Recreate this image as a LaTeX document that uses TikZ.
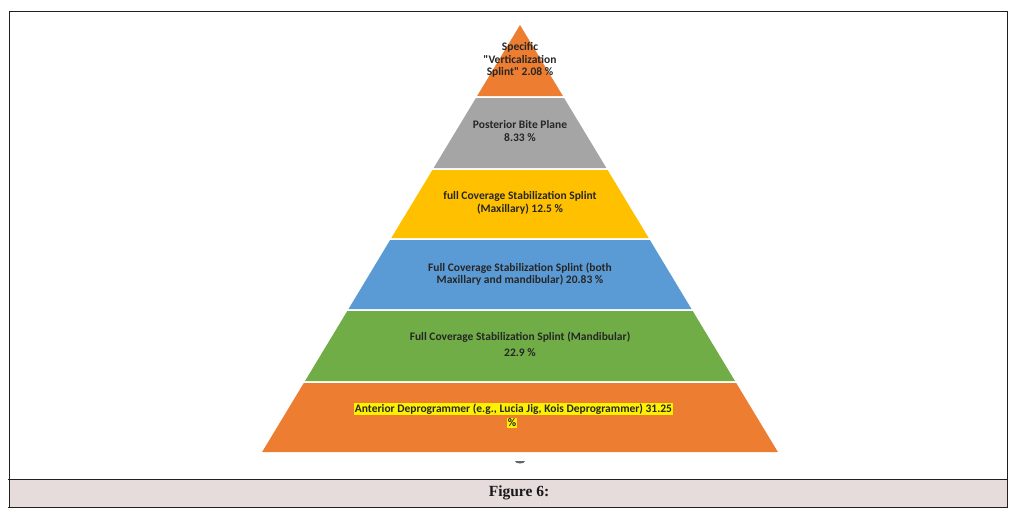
\documentclass[tikz,border=0pt]{standalone}
\usepackage{fontspec}
\setmainfont{Liberation Serif}
\newfontfamily\carl{Carlito}
\definecolor{orng}{HTML}{ED7D31}
\definecolor{gry}{HTML}{A5A5A5}
\definecolor{yel}{HTML}{FFC000}
\definecolor{blu}{HTML}{5B9BD5}
\definecolor{grn}{HTML}{70AD47}
\definecolor{band}{HTML}{E7DCDC}
\definecolor{frame}{HTML}{231F20}
\begin{document}
\begin{tikzpicture}[x=1pt,y=-1pt,
  lbl/.style={font=\carl\bfseries\fontsize{11.5}{12.5}\selectfont, align=center, text=black!85, inner sep=0pt},
  hl/.style={lbl, fill=yellow, inner sep=0.6pt},
  frm/.style={draw=frame, line width=1pt}]
\useasboundingbox (0,0) rectangle (1025,515);
% caption band
\fill[band] (9,479) rectangle (1007,507);
% pyramid layers
\fill[orng] (520,25) -- (562.9,96) -- (477.1,96) -- cycle;
\fill[gry] (475.9,98) -- (564.1,98) -- (606.4,168) -- (433.6,168) -- cycle;
\fill[yel] (432.4,170) -- (607.6,170) -- (648.7,238) -- (391.3,238) -- cycle;
\fill[blu] (390.1,240) -- (649.9,240) -- (691.5,309) -- (348.5,309) -- cycle;
\fill[grn] (347.3,311) -- (692.7,311) -- (735.0,381) -- (305.0,381) -- cycle;
\fill[orng] (303.8,383) -- (736.2,383) -- (777.9,452) -- (262.1,452) -- cycle;
% small mark below pyramid
\fill[black!60] (515,461) arc[start angle=180, end angle=0, x radius=5, y radius=2.5] -- cycle;
% labels
\node[lbl] (l1) at (520,60) {Specific\\"Verticalization\\Splint" 2.08 \%};
\node[lbl] (l2) at (520,131) {Posterior Bite Plane\\8.33 \%};
\node[lbl] (l3) at (520,203) {full Coverage Stabilization Splint\\(Maxillary) 12.5 \%};
\node[lbl] (l4) at (520,274) {Full Coverage Stabilization Splint (both\\Maxillary and mandibular) 20.83 \%};
\node[lbl] (l5a) at (520,337) {Full Coverage Stabilization Splint (Mandibular)};
\node[lbl] (l5b) at (520,353) {22.9 \%};
\node[hl] (l6a) at (513.5,409) {Anterior Deprogrammer (e.g., Lucia Jig, Kois Deprogrammer) 31.25};
\node[hl] (l6b) at (512,423) {\%};
% caption
\node[font=\bfseries\fontsize{15.5}{17}\selectfont, inner sep=0pt, text=black!90] (cap) at (519,493) {Figure 6:};
% frame
\draw[frm] (9,507) -- (9,11) -- (1007,11) -- (1007,507);
\draw[frm] (8,479) -- (1008,479);
\draw[frm] (8,507) -- (1008,507);
\end{tikzpicture}
\end{document}
